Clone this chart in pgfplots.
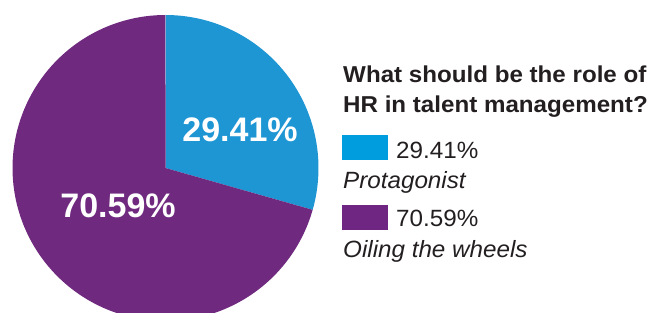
\documentclass[border=0pt]{standalone}
\usepackage{pgfplots}
\pgfplotsset{compat=1.18}
\usepackage{fontspec}
\setmainfont{Liberation Sans}
\newfontfamily\titlefont[FakeStretch=1.05]{Liberation Sans}
\newfontfamily\legfont[FakeStretch=1.03]{Liberation Sans}
\definecolor{pieblue}{RGB}{30,150,212}
\definecolor{piepurple}{RGB}{111,42,127}
\definecolor{legblue}{RGB}{0,157,222}
\definecolor{legpurple}{RGB}{110,38,130}
\definecolor{txt}{RGB}{35,31,32}
\begin{document}
\begin{tikzpicture}[x=1pt,y=1pt]
\useasboundingbox (0,0) rectangle (661,313);
\clip (0,0) rectangle (661,313);
\begin{axis}[at={(165.5pt,145pt)}, anchor=origin, hide axis,
  x=153pt, y=153pt, xmin=-1, xmax=1, ymin=-1, ymax=1, clip=false]
\addplot[fill=pieblue, draw=none, domain=0:105.876, samples=80] ({sin(x)},{cos(x)}) -- (axis cs:0,0) -- cycle;
\addplot[fill=piepurple, draw=none, domain=105.876:360, samples=180] ({sin(x)},{cos(x)}) -- (axis cs:0,0) -- cycle;
\node[white, font=\bfseries\fontsize{34}{34}\selectfont] at (axis cs:0.487,0.248) {29.41\%};
\node[white, font=\bfseries\fontsize{34}{34}\selectfont] at (axis cs:-0.31,-0.248) {70.59\%};
\end{axis}
\node[anchor=base west, inner sep=0, txt, font=\titlefont\bfseries\fontsize{23}{23}\selectfont] at (343,230) {What should be the role of};
\node[anchor=base west, inner sep=0, txt, font=\titlefont\bfseries\fontsize{23}{23}\selectfont] at (343,200) {HR in talent management?};
\fill[legblue] (342,153) rectangle (388,178);
\node[anchor=base west, inner sep=0, txt, font=\legfont\fontsize{23.5}{23.5}\selectfont] at (396,154) {29.41\%};
\node[anchor=base west, inner sep=0, txt, font=\legfont\itshape\fontsize{23.5}{23.5}\selectfont] at (343,124) {Protagonist};
\fill[legpurple] (342,83) rectangle (388,108);
\node[anchor=base west, inner sep=0, txt, font=\legfont\fontsize{23.5}{23.5}\selectfont] at (396,86) {70.59\%};
\node[anchor=base west, inner sep=0, txt, font=\legfont\itshape\fontsize{23.5}{23.5}\selectfont] at (343,55) {Oiling the wheels};
\end{tikzpicture}
\end{document}
